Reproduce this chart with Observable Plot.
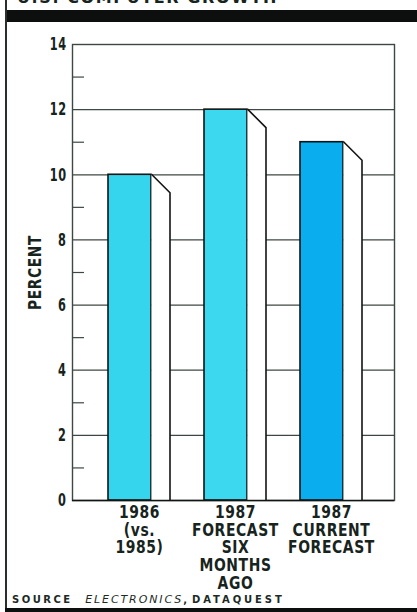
<!DOCTYPE html>
<html>
<head>
<meta charset="utf-8">
<script src="https://cdn.jsdelivr.net/npm/d3@7"></script>
<script src="https://cdn.jsdelivr.net/npm/@observablehq/plot@0.6"></script>
<style>
  html, body { margin: 0; padding: 0; background: #fff; }
  #page { position: relative; width: 417px; height: 612px; overflow: hidden; background: #fff; color: #17231d; }
  .title { position: absolute; left: 17px; top: -10.5px; font: bold 16px/16px "DejaVu Sans", sans-serif; letter-spacing: 1.6px; white-space: nowrap; }
  .topbar { position: absolute; left: 5px; right: 0; top: 10px; height: 12px; background: #0d0f0e; }
  .leftrule { position: absolute; left: 5px; top: 0; width: 2px; height: 612px; background: #2a2f2c; }
  .bottombar { position: absolute; left: 5px; right: 0; top: 608px; height: 4px; background: #0d0f0e; }
  #chart { position: absolute; left: 0; top: 24px; }
  .source { position: absolute; left: 12px; top: 593.5px; font: 10px/12px "DejaVu Sans", sans-serif; font-weight: 600; white-space: nowrap; color: #1d2a24; }
  .source .sc { letter-spacing: 2.5px; }
  .source i { font-size: 11px; font-weight: normal; letter-spacing: 1.9px; margin-left: 9px; }
  .source .dq { margin-left: 5px; letter-spacing: 2.9px; }
</style>
</head>
<body>
<div id="page">
  <div class="title">U.S. COMPUTER GROWTH</div>
  <div class="topbar"></div>
  <div class="leftrule"></div>
  <div id="chart"></div>
  <div class="source"><span class="sc">SOURCE</span> <i>ELECTRONICS</i>,<span class="sc dq">DATAQUEST</span></div>
  <div class="bottombar"></div>
</div>
<script>
// Growth of the U.S. computer market, percent
const categories = ["1986\n(vs.\n1985)", "1987\nFORECAST\nSIX\nMONTHS\nAGO", "1987\nCURRENT\nFORECAST"];
const growth = [10, 12, 11];
const barColors = ["#36d5ee", "#3cd8f0", "#0aadee"];
const majorTicks = [0, 2, 4, 6, 8, 10, 12, 14];
const minorTicks = [1, 3, 5, 7, 9, 11, 13];

const data = categories.map((category, i) => ({category, growth: growth[i], color: barColors[i]}));

const INK = "#17231d";
const GRID = "#3e4843";
const OUTLINE = "#111513";
const W = 417, H = 570, ML = 72, MR = 23, MT = 20, MB = 94;
const FRONT_W = 43.5;   // width of each bar's front face
const SIDE_W = 19;      // width of the receding side face
const SIDE_DROP = 18.5; // how far the side's back edge drops below the top
const MINOR_LEN = 12;

// Turn each side rect into a slanted face: diagonal top edge, vertical back edge.
function sideFace(index, scales, values, dimensions, context, next) {
  const g = next(index, scales, values, dimensions, context);
  const ns = "http://www.w3.org/2000/svg";
  for (const rect of Array.from(g.querySelectorAll("rect"))) {
    const x0 = +rect.getAttribute("x"), w = +rect.getAttribute("width");
    const y0 = +rect.getAttribute("y"), h = +rect.getAttribute("height");
    const x1 = x0 + w, yb = y0 + h, yt = y0 + SIDE_DROP;
    const face = document.createElementNS(ns, "path");
    face.setAttribute("d", `M${x0},${y0}L${x1},${yt}L${x1},${yb}L${x0},${yb}Z`);
    face.setAttribute("fill", "#ffffff");
    face.setAttribute("stroke", "none");
    const edge = document.createElementNS(ns, "path");
    edge.setAttribute("d", `M${x0},${y0}L${x1},${yt}L${x1},${yb}`);
    edge.setAttribute("fill", "none");
    edge.setAttribute("stroke", OUTLINE);
    edge.setAttribute("stroke-width", 1.6);
    rect.replaceWith(face, edge);
  }
  return g;
}

const chart = Plot.plot({
  width: W,
  height: H,
  marginTop: MT,
  marginBottom: MB,
  marginLeft: ML,
  marginRight: MR,
  style: {
    fontFamily: '"Liberation Sans Narrow", "DejaVu Sans Condensed", sans-serif',
    fontWeight: "bold",
    fontSize: "18px",
    color: INK,
    background: "transparent",
    letterSpacing: "0.7px"
  },
  x: {domain: categories, range: [108, 362.5], paddingInner: 0.349, paddingOuter: 0, label: null},
  y: {domain: [0, 14], label: null},
  marks: [
    Plot.gridY(majorTicks, {stroke: GRID, strokeOpacity: 1, strokeWidth: 1.2}),
    Plot.ruleY(minorTicks, {stroke: GRID, strokeWidth: 1.2, insetRight: W - ML - MR - MINOR_LEN}),
    Plot.frame({stroke: GRID, strokeWidth: 1.4}),
    Plot.barY(data, {x: "category", y: "growth", fill: "color", stroke: OUTLINE, strokeWidth: 1.6, insetRight: SIDE_W}),
    Plot.barY(data, {x: "category", y: "growth", fill: "#ffffff", insetLeft: FRONT_W, render: sideFace}),
    Plot.ruleY([0], {stroke: OUTLINE, strokeWidth: 1.6}),
    Plot.axisY(majorTicks, {tickSize: 0, tickPadding: 6, label: null}),
    Plot.axisX({tickSize: 0, tickPadding: 5, lineHeight: 0.98, label: null}),
    Plot.text(["PERCENT"], {frameAnchor: "left", textAnchor: "middle", dx: -36.5, rotate: -90, fontSize: 17, text: d => d})
  ]
});

document.getElementById("chart").append(chart);

// Narrow the lettering horizontally, keeping each label's anchor in place.
function condense(texts, k) {
  for (const t of texts) {
    const tr = t.getAttribute("transform") || "";
    t.setAttribute("transform", `${tr} scale(${k},1)`);
  }
}
const groups = Array.from(chart.querySelectorAll("g"));
const textsOf = (label) => groups.filter(g => g.getAttribute("aria-label") === label).flatMap(g => Array.from(g.querySelectorAll("text")));
condense(textsOf("x-axis tick label"), 0.86);
condense(textsOf("y-axis tick label"), 0.7);
condense(textsOf("text"), 0.9);
</script>
</body>
</html>
